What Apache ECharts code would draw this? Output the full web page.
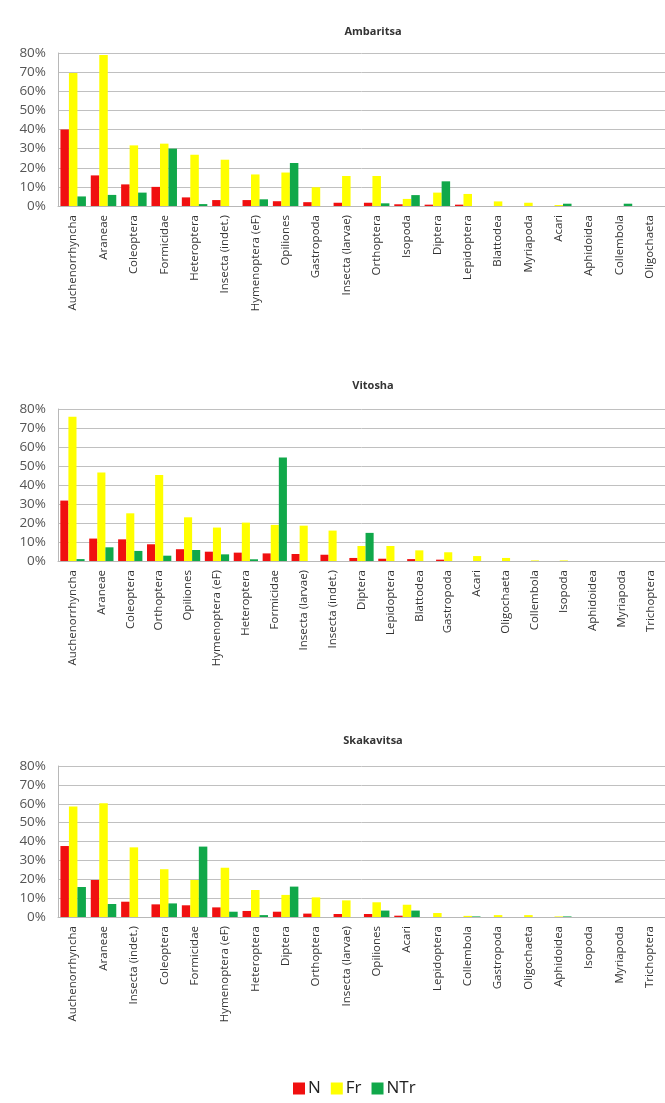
<!DOCTYPE html>
<html><head><meta charset="utf-8">
<script src="https://cdn.jsdelivr.net/npm/echarts@6/dist/echarts.min.js"></script>
<style>html,body{margin:0;padding:0;background:#fff}#c{width:665px;height:1103px}</style>
</head><body><div id="c"></div>
<script>
var seriesNames = ['N', 'Fr', 'NTr'];
var titles = ['Ambaritsa', 'Vitosha', 'Skakavitsa'];
var yTicks = [0, 10, 20, 30, 40, 50, 60, 70, 80];

var catsA = ['Auchenorrhyncha','Araneae','Coleoptera','Formicidae','Heteroptera','Insecta (indet.)','Hymenoptera (eF)','Opiliones','Gastropoda','Insecta (larvae)','Orthoptera','Isopoda','Diptera','Lepidoptera','Blattodea','Myriapoda','Acari','Aphidoidea','Collembola','Oligochaeta'];
var nA   = [40, 16, 11.3, 10, 4.5, 3.1, 3.1, 2.5, 2, 1.7, 1.7, 0.9, 0.7, 0.7, 0, 0, 0, 0, 0, 0];
var frA  = [69.5, 79, 31.7, 32.6, 26.8, 24.2, 16.5, 17.5, 9.8, 15.7, 15.7, 3.7, 7, 6.3, 2.4, 1.7, 0.5, 0, 0, 0];
var ntrA = [5, 5.8, 7, 30, 1, 0, 3.5, 22.5, 0, 0, 1.4, 5.7, 12.9, 0, 0, 0, 1.2, 0, 1.2, 0];

var catsV = ['Auchenorrhyncha','Araneae','Coleoptera','Orthoptera','Opiliones','Hymenoptera (eF)','Heteroptera','Formicidae','Insecta (larvae)','Insecta (indet.)','Diptera','Lepidoptera','Blattodea','Gastropoda','Acari','Oligochaeta','Collembola','Isopoda','Aphidoidea','Myriapoda','Trichoptera'];
var nV   = [31.8, 11.8, 11.4, 8.8, 6.2, 4.9, 4.4, 4, 3.7, 3.3, 1.6, 1.2, 1, 0.7, 0, 0, 0, 0, 0, 0, 0];
var frV  = [75.9, 46.6, 25.1, 45.3, 23, 17.6, 20.2, 19, 18.6, 16, 7.9, 7.9, 5.6, 4.6, 2.6, 1.6, 0.3, 0.3, 0, 0, 0];
var ntrV = [1, 7.2, 5.3, 2.8, 5.8, 3.5, 0.9, 54.5, 0, 0, 14.8, 0, 0, 0, 0, 0, 0, 0, 0, 0, 0];

var catsS = ['Auchenorrhyncha','Araneae','Insecta (indet.)','Coleoptera','Formicidae','Hymenoptera (eF)','Heteroptera','Diptera','Orthoptera','Insecta (larvae)','Opiliones','Acari','Lepidoptera','Collembola','Gastropoda','Oligochaeta','Aphidoidea','Isopoda','Myriapoda','Trichoptera'];
var nS   = [37.6, 19.6, 8.1, 6.7, 6.2, 5.1, 3.2, 2.8, 1.8, 1.6, 1.6, 0.7, 0, 0, 0, 0, 0, 0, 0, 0];
var frS  = [58.5, 60.2, 36.9, 25.3, 19.6, 26.1, 14.3, 11.7, 10.4, 8.8, 7.8, 6.5, 2.1, 0.6, 1, 1, 0.3, 0, 0, 0];
var ntrS = [15.9, 6.9, 0, 7.2, 37.3, 2.8, 1, 16.1, 0, 0, 3.4, 3.4, 0, 0.3, 0, 0, 0.3, 0, 0, 0];

var colors = ['#F01010', '#FFFF00', '#10A84A'];
var FONT = 'Open Sans';
var panels = [
  {cats: catsA, data: [nA, frA, ntrA], top: 53, height: 153, right: -5, titleTop: 21},
  {cats: catsV, data: [nV, frV, ntrV], top: 409, height: 152, right: -10, titleTop: 375},
  {cats: catsS, data: [nS, frS, ntrS], top: 766, height: 151, right: -7, titleTop: 730}
];

var option = {
  backgroundColor: '#fff',
  animation: false,
  textStyle: {fontFamily: FONT},
  title: [], grid: [], xAxis: [], yAxis: [], series: [],
  legend: {
    data: seriesNames, left: 288, top: 1075, icon: 'rect', itemWidth: 12, itemHeight: 12, itemGap: 10,
    textStyle: {fontSize: 17, color: '#222', fontFamily: FONT, padding: [0, 0, 0, -2]}
  }
};

panels.forEach(function (p, i) {
  option.title.push({
    text: titles[i], left: 368, top: p.titleTop, textAlign: 'center',
    textStyle: {fontSize: 11, fontWeight: 'bold', color: '#333', fontFamily: FONT}
  });
  option.grid.push({left: 58, right: p.right, top: p.top, height: p.height, containLabel: false});
  option.xAxis.push({
    type: 'category', gridIndex: i, data: p.cats,
    axisLine: {show: true, lineStyle: {color: '#b8b8b8', width: 1}},
    axisTick: {show: false},
    axisLabel: {rotate: 90, interval: 0, fontSize: 11.5, color: '#333', margin: 9, fontFamily: FONT}
  });
  option.yAxis.push({
    type: 'value', gridIndex: i, min: yTicks[0], max: yTicks[yTicks.length - 1], interval: 10,
    axisLine: {show: true, lineStyle: {color: '#b8b8b8', width: 1}},
    axisTick: {show: false},
    splitLine: {show: true, lineStyle: {color: '#c0c0c0', width: 1}},
    axisLabel: {formatter: '{value}%', fontSize: 13.5, color: '#555', margin: 12, fontFamily: FONT}
  });
  seriesNames.forEach(function (name, k) {
    option.series.push({
      name: name, type: 'bar', xAxisIndex: i, yAxisIndex: i, data: p.data[k],
      itemStyle: {color: colors[k]}, barGap: '0%', barCategoryGap: '16%'
    });
  });
});

var chart = echarts.init(document.getElementById('c'), null, {renderer: 'canvas'});
chart.setOption(option);
</script></body></html>
